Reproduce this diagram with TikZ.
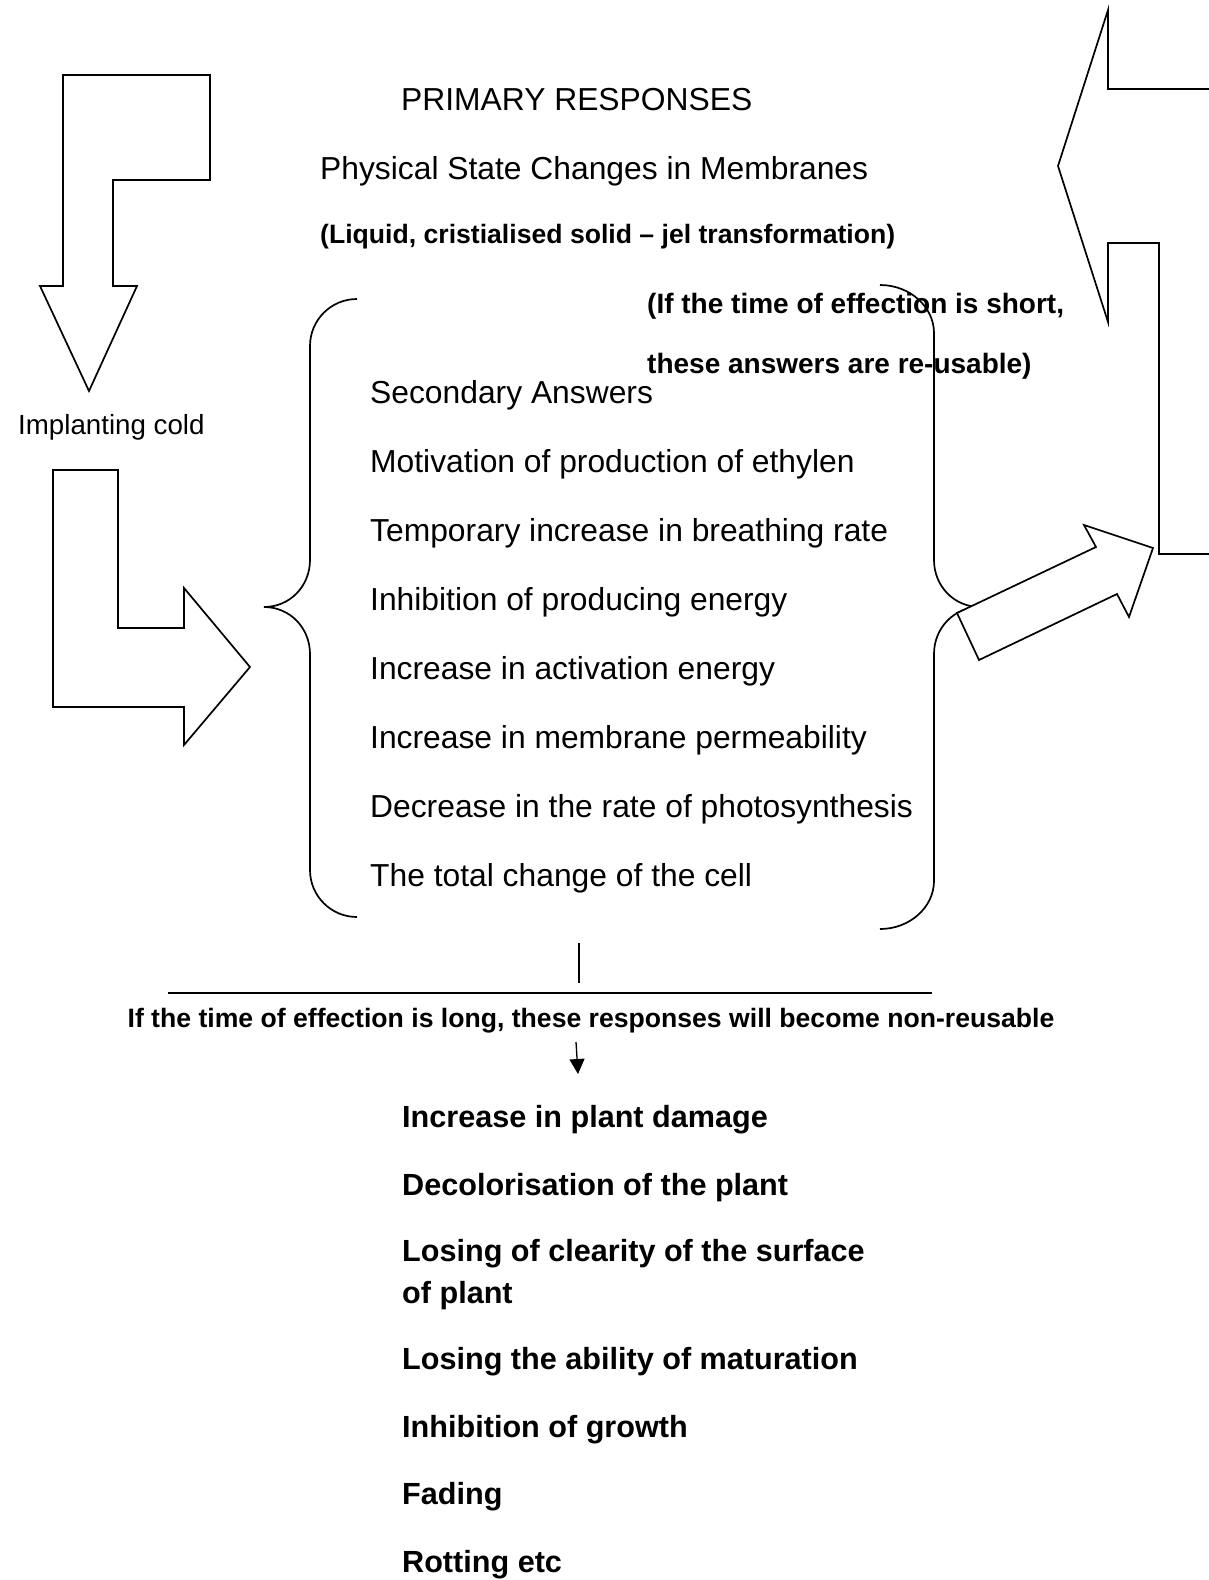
\documentclass[tikz,border=0pt]{standalone}
\usepackage{fontspec}
\setmainfont{Liberation Sans}
\usetikzlibrary{arrows.meta}
\begin{document}
\begin{tikzpicture}[x=1pt,y=-1pt,
  reg/.style={anchor=base west, inner sep=0pt, font=\fontsize{31.8}{38}\selectfont},
  regs/.style={anchor=base west, inner sep=0pt, font=\fontsize{27.7}{33}\selectfont},
  bld/.style={anchor=base west, inner sep=0pt, font=\fontsize{30.6}{37}\selectfont\bfseries},
  bldm/.style={anchor=base west, inner sep=0pt, font=\fontsize{28}{34}\selectfont\bfseries},
  blds/.style={anchor=base west, inner sep=0pt, font=\fontsize{26.6}{32}\selectfont\bfseries},
  blk/.style={draw, line width=1.7pt, fill=white, line join=miter},
  brc/.style={draw, line width=1.7pt},
  thinline/.style={draw, line width=1.3pt},
]
\useasboundingbox (0,0) rectangle (1208,1580);
\fill[white] (0,0) rectangle (1208,1580);

% block arrows
\path[blk] (63,75) -- (210,75) -- (210,180) -- (113,180) -- (113,286) -- (137,286)
  -- (89,391) -- (40,286) -- (63,286) -- cycle;
\path[blk] (53,470) -- (118,470) -- (118,628) -- (184,628) -- (184,588) -- (250,667)
  -- (184,745) -- (184,707) -- (53,707) -- cycle;
\path[blk] (1212,89) -- (1108,89) -- (1108,10) -- (1058,166) -- (1108,322) -- (1108,243)
  -- (1159,243) -- (1159,554) -- (1212,554);

% texts
\node[reg] (pr) at (401,110) {PRIMARY RESPONSES};
\node[reg] (ps) at (320,179.5) {Physical State Changes in Membranes};
\node[blds] (lq) at (320,243.5) {(Liquid, cristialised solid – jel transformation)};
\node[bldm] (sh1) at (647,313) {(If the time of effection is short,};
\node[bldm] (sh2) at (647,373) {these answers are re-usable)};
\node[regs] (ic) at (18,434) {Implanting cold};

\node[reg] (s0) at (370,403.4) {Secondary Answers};
\node[reg] (s1) at (370,472.3) {Motivation of production of ethylen};
\node[reg] (s2) at (370,541.3) {Temporary increase in breathing rate};
\node[reg] (s3) at (370,610.2) {Inhibition of producing energy};
\node[reg] (s4) at (370,679.2) {Increase in activation energy};
\node[reg] (s5) at (370,748.1) {Increase in membrane permeability};
\node[reg] (s6) at (370,817.0) {Decrease in the rate of photosynthesis};
\node[reg] (s7) at (370,886.0) {The total change of the cell};

% braces
\path[brc] (357,299) .. controls (331,299) and (310,320) .. (310,346) -- (310,560)
  .. controls (310,586) and (290,607) .. (264,607)
  .. controls (290,607) and (310,628) .. (310,654) -- (310,870)
  .. controls (310,896) and (331,917) .. (357,917);
\path[brc] (880,285) .. controls (910,285) and (934,307) .. (934,333) -- (934,560)
  .. controls (934,586) and (954,607) .. (980,607)
  .. controls (954,607) and (934,628) .. (934,654) -- (934,881)
  .. controls (934,907) and (910,929) .. (880,929);

% diagonal arrow
\path[blk] (957,613) -- (1096,547) -- (1084,525) -- (1153,548) -- (1129,617)
  -- (1117,594) -- (979,660) -- cycle;

% lower part
\coordinate (v1) at (579,943);
\coordinate (v2) at (579,983);
\path[thinline] (v1) -- (v2);
\coordinate (h1) at (168,993);
\coordinate (h2) at (932,993);
\path[draw, line width=2pt] (h1) -- (h2);
\node[blds, anchor=base] (lg) at (591,1027.5) {If the time of effection is long, these responses will become non-reusable};
\coordinate (a1) at (576,1042);
\coordinate (a2) at (578,1074);
\draw[line width=1.3pt, -{Triangle[length=15pt,width=15pt]}] (a1) -- (a2);

\node[bld] (b1) at (402,1127) {Increase in plant damage};
\node[bld] (b2) at (402,1195) {Decolorisation of the plant};
\node[bld] (b3) at (402,1261) {Losing of clearity of the surface};
\node[bld] (b3b) at (402,1303) {of plant};
\node[bld] (b4) at (402,1369) {Losing the ability of maturation};
\node[bld] (b5) at (402,1437) {Inhibition of growth};
\node[bld] (b6) at (402,1504) {Fading};
\node[bld] (b7) at (402,1572) {Rotting etc};
\end{tikzpicture}
\end{document}
